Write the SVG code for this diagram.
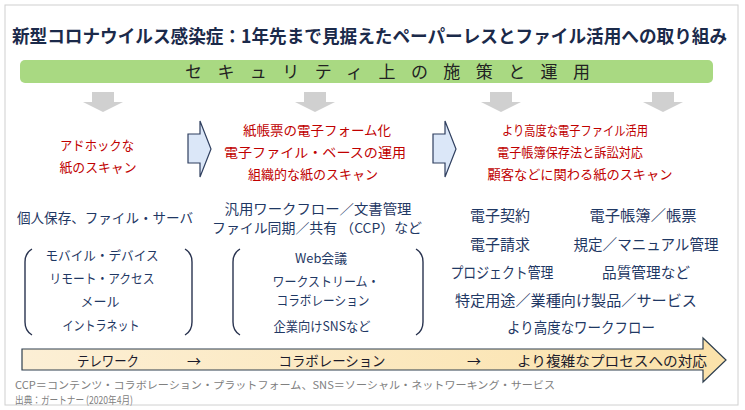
<svg xmlns="http://www.w3.org/2000/svg" width="745" height="410" viewBox="0 0 745 410">
<defs>
<linearGradient id="gBody" x1="0" y1="0" x2="1" y2="0">
<stop offset="0" stop-color="#fcefd5"/>
<stop offset="1" stop-color="#fbe2aa"/>
</linearGradient>
<style>
text{font-family:"Noto Sans CJK JP","Noto Sans",sans-serif;}
.title{font-size:18px;font-weight:bold;fill:#1b2a4a;}
.bar{font-size:17px;fill:#222;}
.red{font-size:13px;fill:#c00000;text-anchor:middle;}
.blue{font-size:13.5px;fill:#1f3864;text-anchor:middle;}
.bl{font-size:13px;fill:#1f3864;text-anchor:middle;}
.br{font-size:15px;fill:#1f3864;text-anchor:middle;}
.flow{font-size:14px;fill:#1b1b2b;text-anchor:middle;}
.note{font-size:10.5px;fill:#808080;}
.down{fill:#d0d0d0;}
.chev{fill:#dbe7f8;stroke:#2f3f5f;stroke-width:1.2;}
.brk{fill:none;stroke:#2a3450;stroke-width:1.4;}
</style>
</defs>
<rect x="5" y="5" width="733" height="400" fill="#fff" stroke="#d0d0d0" stroke-width="1"/>
<g id="title"><text class="title" x="12" y="43" textLength="715" lengthAdjust="spacingAndGlyphs">新型コロナウイルス感染症：1年先まで見据えたペーパーレスとファイル活用への取り組み</text></g>
<g id="security-bar">
<rect x="20" y="60" width="693" height="23" rx="5" fill="#a9d982"/>
<text class="bar" x="185" y="78" textLength="405" lengthAdjust="spacing">セキュリティ上の施策と運用</text>
</g>
<g id="connectors">
<polygon class="down" points="92,92 114,92 114,102 123,102 103,112 83,102 92,102"/>
<polygon class="down" points="304,92 326,92 326,102 335,102 315,112 295,102 304,102"/>
<polygon class="down" points="490,92 512,92 512,102 521,102 501,112 481,102 490,102"/>
<polygon class="down" points="652,92 674,92 674,102 683,102 663,112 643,102 652,102"/>
<polygon class="chev" points="188,134 200,134 200,121 211,149 200,177 200,163 188,163"/>
<polygon class="chev" points="433,134 445,134 445,121 456,149 445,177 445,163 433,163"/>
</g>
<g id="stage1">
<text class="red" x="97" y="150" textLength="74" lengthAdjust="spacingAndGlyphs">アドホックな</text>
<text class="red" x="98" y="172" textLength="77" lengthAdjust="spacingAndGlyphs">紙のスキャン</text>
</g>
<g id="stage2">
<text class="red" x="317" y="135" textLength="148" lengthAdjust="spacingAndGlyphs">紙帳票の電子フォーム化</text>
<text class="red" x="315" y="157" textLength="182" lengthAdjust="spacingAndGlyphs">電子ファイル・ベースの運用</text>
<text class="red" x="313" y="179" textLength="130" lengthAdjust="spacingAndGlyphs">組織的な紙のスキャン</text>
</g>
<g id="stage3">
<text class="red" x="575" y="135" textLength="146" lengthAdjust="spacingAndGlyphs">より高度な電子ファイル活用</text>
<text class="red" x="570" y="157" textLength="146" lengthAdjust="spacingAndGlyphs">電子帳簿保存法と訴訟対応</text>
<text class="red" x="580" y="179" textLength="185" lengthAdjust="spacingAndGlyphs">顧客などに関わる紙のスキャン</text>
</g>
<g id="tools1">
<text class="blue" x="105" y="223" textLength="176" lengthAdjust="spacingAndGlyphs">個人保存、ファイル・サーバ</text>
<path class="brk" d="M32,249 Q25,253 25,262 L25,322 Q25,331 32,335"/>
<path class="brk" d="M185,249 Q192,253 192,262 L192,322 Q192,331 185,335"/>
<text class="bl" x="102" y="260" textLength="113" lengthAdjust="spacingAndGlyphs">モバイル・デバイス</text>
<text class="bl" x="102" y="283" textLength="105" lengthAdjust="spacingAndGlyphs">リモート・アクセス</text>
<text class="bl" x="100" y="306">メール</text>
<text class="bl" x="101" y="330" textLength="77" lengthAdjust="spacingAndGlyphs">イントラネット</text>
</g>
<g id="tools2">
<text class="blue" x="318" y="214" textLength="187" lengthAdjust="spacingAndGlyphs">汎用ワークフロー／文書管理</text>
<text class="blue" x="317" y="233" textLength="210" lengthAdjust="spacingAndGlyphs">ファイル同期／共有 （CCP）など</text>
<path class="brk" d="M240,249 Q233,253 233,262 L233,322 Q233,331 240,335"/>
<path class="brk" d="M416,249 Q423,253 423,262 L423,322 Q423,331 416,335"/>
<text class="bl" x="321" y="263" textLength="52" lengthAdjust="spacingAndGlyphs">Web会議</text>
<text class="bl" x="326" y="286" textLength="107" lengthAdjust="spacingAndGlyphs">ワークストリーム・</text>
<text class="bl" x="323" y="305" textLength="93" lengthAdjust="spacingAndGlyphs">コラボレーション</text>
<text class="bl" x="322" y="331" textLength="97" lengthAdjust="spacingAndGlyphs">企業向けSNSなど</text>
</g>
<g id="tools3">
<text class="br" x="500" y="221" textLength="60" lengthAdjust="spacingAndGlyphs">電子契約</text>
<text class="br" x="643" y="221" textLength="107" lengthAdjust="spacingAndGlyphs">電子帳簿／帳票</text>
<text class="br" x="500" y="250" textLength="60" lengthAdjust="spacingAndGlyphs">電子請求</text>
<text class="br" x="646" y="250" textLength="145" lengthAdjust="spacingAndGlyphs">規定／マニュアル管理</text>
<text class="br" x="502" y="278" textLength="103" lengthAdjust="spacingAndGlyphs">プロジェクト管理</text>
<text class="br" x="646" y="278" textLength="88" lengthAdjust="spacingAndGlyphs">品質管理など</text>
<text class="br" x="576" y="306" textLength="242" lengthAdjust="spacingAndGlyphs">特定用途／業種向け製品／サービス</text>
<text class="br" x="581" y="333" textLength="148" lengthAdjust="spacingAndGlyphs">より高度なワークフロー</text>
</g>
<g id="flow-arrow">
<polygon points="22,349 703,349 703,338 726,360 703,382 703,370 22,370" fill="url(#gBody)" stroke="#2f3f4f" stroke-width="1.2"/>
<text class="flow" x="108" y="366" textLength="62" lengthAdjust="spacingAndGlyphs">テレワーク</text>
<text class="flow" x="194" y="366">→</text>
<text class="flow" x="332" y="366" textLength="107" lengthAdjust="spacingAndGlyphs">コラボレーション</text>
<text class="flow" x="474" y="366">→</text>
<text class="flow" x="612" y="366" textLength="190" lengthAdjust="spacingAndGlyphs">より複雑なプロセスへの対応</text>
</g>
<g id="notes">
<text class="note" x="15" y="389" textLength="540" lengthAdjust="spacingAndGlyphs">CCP＝コンテンツ・コラボレーション・プラットフォーム、SNS＝ソーシャル・ネットワーキング・サービス</text>
<text class="note" x="15" y="404" textLength="118" lengthAdjust="spacingAndGlyphs">出典：ガートナー (2020年4月)</text>
</g>
</svg>
